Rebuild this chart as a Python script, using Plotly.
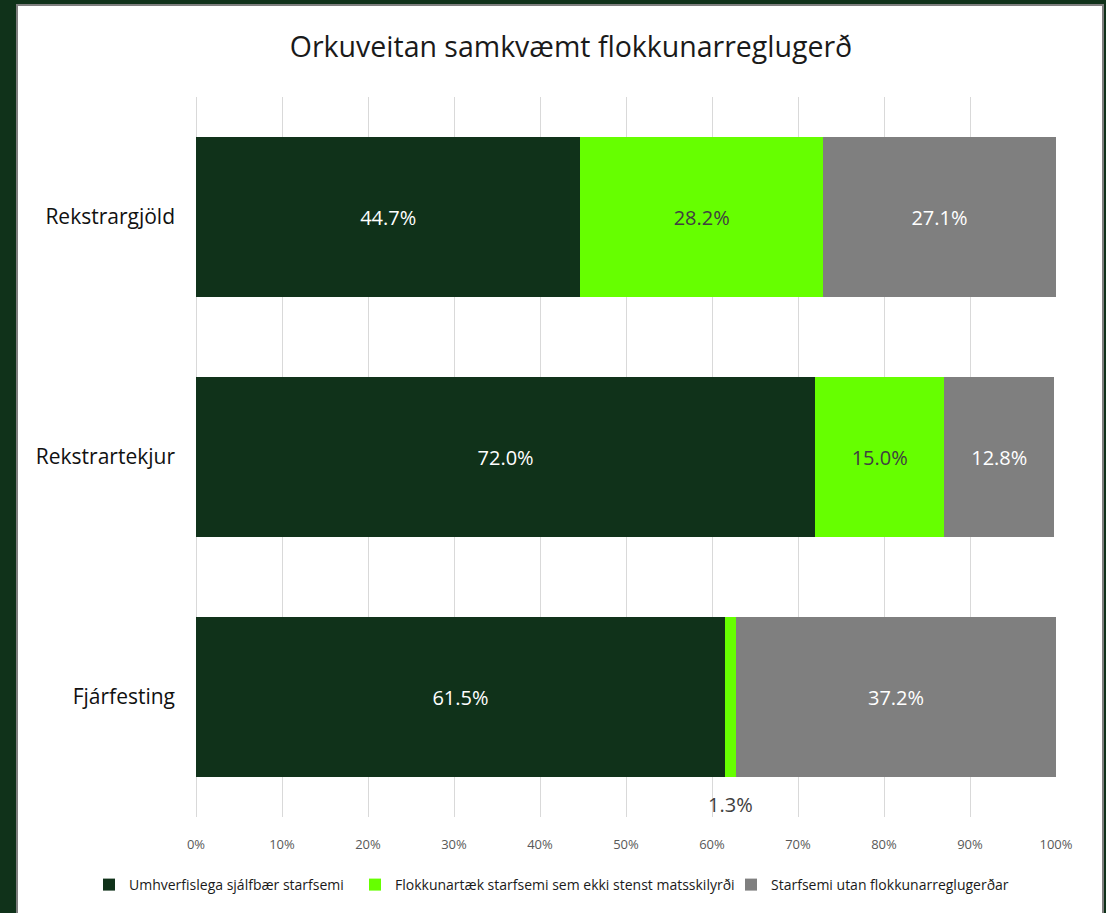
import plotly.graph_objects as go

categories = ["Rekstrargjöld", "Rekstrartekjur", "Fjárfesting"]
series_names = [
    "Umhverfislega sjálfbær starfsemi",
    "Flokkunartæk starfsemi sem ekki stenst matsskilyrði",
    "Starfsemi utan flokkunarreglugerðar",
]
sjalfbaer = [44.7, 72.0, 61.5]
flokkunartaek = [28.2, 15.0, 1.3]
utan = [27.1, 12.8, 37.2]
x_ticks = [0, 10, 20, 30, 40, 50, 60, 70, 80, 90, 100]

colors = ["#10321A", "#66FF00", "#7F7F7F"]
label_colors = ["#FFFFFF", "#404040", "#FFFFFF"]
FONT = "Open Sans, sans-serif"

W, H = 1106, 913
L, R, T, B = 196, 50, 97, 96
pw, ph = W - L - R, H - T - B
legend_left_px = [89, 355, 731]


def px_x(p):
    return (p - L) / pw


def px_y(p):
    return (H - B - p) / ph


fig = go.Figure()
values = [sjalfbaer, flokkunartaek, utan]
legend_ids = ["legend", "legend2", "legend3"]
outside_labels = []
for i, (name, vals) in enumerate(zip(series_names, values)):
    texts = []
    for c, v in zip(categories, vals):
        if v < 5:
            texts.append("")
            outside_labels.append((c, v, sum(values[k][categories.index(c)] for k in range(i))))
        else:
            texts.append(f"{v:.1f}%")
    fig.add_trace(go.Bar(
        y=categories, x=vals, name=name, orientation="h",
        marker=dict(color=colors[i], line=dict(width=0)),
        text=texts, textposition="inside", insidetextanchor="middle",
        textangle=0,
        textfont=dict(family=FONT, size=20, color=label_colors[i]),
        constraintext="none",
        cliponaxis=False,
        legend=legend_ids[i],
    ))

for c, v, base in outside_labels:
    fig.add_annotation(
        x=base + v / 2, y=c, xref="x", yref="y",
        text=f"{v:.1f}%", showarrow=False, yshift=-107,
        font=dict(family=FONT, size=20, color="#404040"),
    )

legend_style = dict(
    orientation="h", xref="container", xanchor="left",
    yref="container", y=1 - 885 / H, yanchor="middle",
    font=dict(family=FONT, size=14, color="#1A1A1A"),
    bgcolor="rgba(0,0,0,0)", itemwidth=30, borderwidth=0,
)
legends = {}
for lid, lx in zip(legend_ids, legend_left_px):
    legends[lid] = dict(legend_style, x=lx / W)

fig.update_layout(
    width=W, height=H,
    barmode="stack", bargap=1/3,
    paper_bgcolor="#10321A", plot_bgcolor="rgba(0,0,0,0)",
    margin=dict(l=L, r=R, t=T, b=B, autoexpand=False),
    title=dict(
        text="Orkuveitan samkvæmt flokkunarreglugerð",
        x=571 / W, xanchor="center", y=1 - 47 / H, yanchor="middle",
        font=dict(family=FONT, size=28.5, color="#1A1A1A"),
    ),
    xaxis=dict(
        range=[0, 100], tickvals=x_ticks, ticktext=[f"{t}%" for t in x_ticks],
        showgrid=True, gridcolor="#D9D9D9", gridwidth=1,
        zeroline=True, zerolinecolor="#D9D9D9", zerolinewidth=1,
        showline=False, ticks="", ticklabelstandoff=18,
        tickfont=dict(family=FONT, size=13, color="#595959"),
    ),
    yaxis=dict(
        categoryorder="array", categoryarray=categories, autorange="reversed",
        showgrid=False, zeroline=False, showline=False, ticks="",
        ticklabelstandoff=20,
        tickfont=dict(family=FONT, size=21, color="#111111"),
    ),
    showlegend=True,
    shapes=[dict(
        type="rect", xref="paper", yref="paper", layer="below",
        x0=px_x(17), x1=px_x(1103), y0=px_y(930), y1=px_y(5),
        fillcolor="#FFFFFF", line=dict(color="#7F7F7F", width=2),
    )],
    **legends,
)

fig.write_html(
    "out.html",
    config={"displayModeBar": False},
    post_script="document.body.style.margin='0px';document.body.style.padding='0px';",
)
